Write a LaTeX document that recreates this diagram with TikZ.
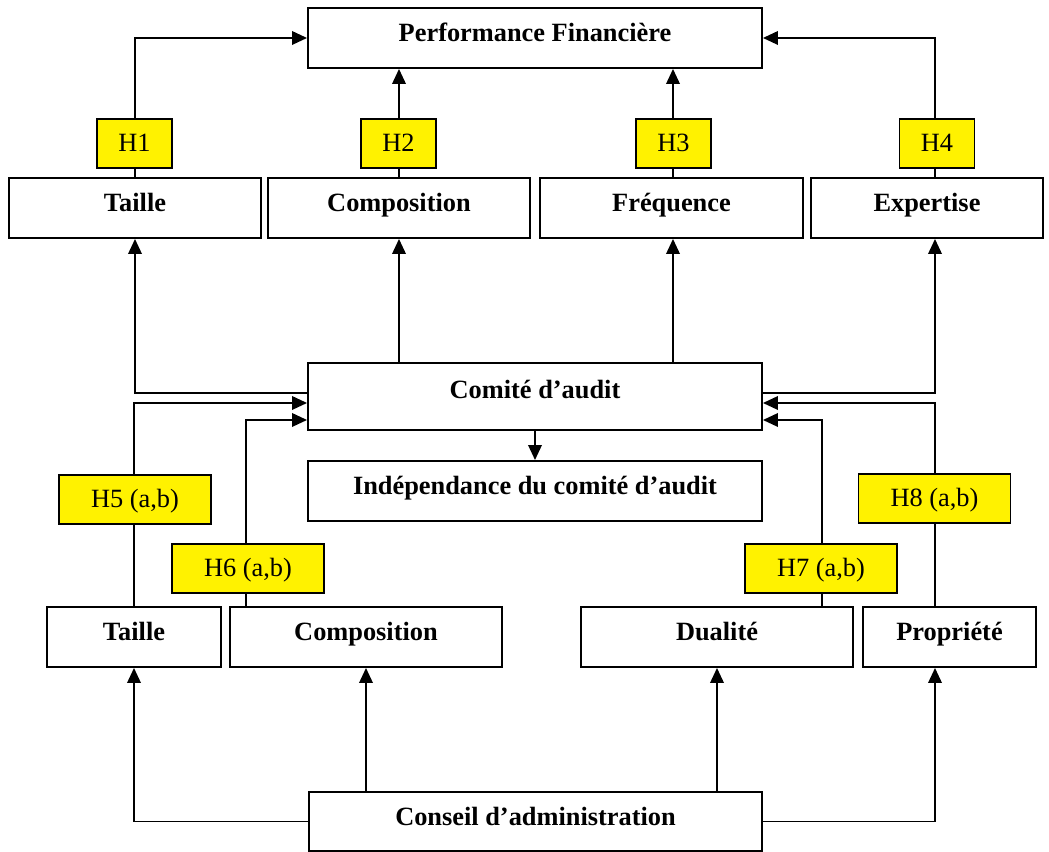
\documentclass[tikz,border=0pt]{standalone}
\usepackage{fontspec}
\setmainfont{Liberation Serif}
\usetikzlibrary{arrows.meta}

\tikzset{
	box/.style={draw=black, line width=1.1pt, inner sep=0pt, minimum height=1.20cm, text height=0.66em, text depth=0.24em, font=\fontsize{15}{18}\selectfont\bfseries},
	hyp/.style={draw=black, line width=1.1pt, fill=yellow, inner sep=0pt, minimum width=1.50cm, minimum height=0.98cm, text height=0.87em, text depth=0em, font=\fontsize{15}{18}\selectfont},
	link/.style={line width=1.1pt, -{Triangle[length=0.30cm, width=0.27cm]}}
}

\begin{document}
\begin{tikzpicture}[scale=1]
				\useasboundingbox (0.00, 0.00) rectangle (20.98, 17.04);
				\node[box, minimum width=9.08cm] (perf) at (10.70, 16.28) {Performance Financière};
				\node[box, minimum width=5.04cm] (tailleCA) at (2.70, 12.88) {Taille};
				\node[box, minimum width=5.24cm] (compoCA) at (7.98, 12.88) {Composition};
				\node[box, minimum width=5.26cm] (freqCA) at (13.43, 12.88) {Fréquence};
				\node[box, minimum width=4.64cm] (expCA) at (18.54, 12.88) {Expertise};
				\node[box, minimum width=9.08cm, minimum height=1.34cm, text depth=0.45em] (comite) at (10.70, 9.11) {Comité d’audit};
				\node[box, minimum width=9.08cm] (indep) at (10.70, 7.22) {Indépendance du comité d’audit};
				\node[box, minimum width=3.48cm] (tailleCONS) at (2.68, 4.30) {Taille};
				\node[box, minimum width=5.44cm] (compoCONS) at (7.32, 4.30) {Composition};
				\node[box, minimum width=5.44cm] (dual) at (14.34, 4.30) {Dualité};
				\node[box, minimum width=3.46cm] (prop) at (18.99, 4.30) {Propriété};
				\node[box, minimum width=9.06cm, minimum height=1.18cm] (conseil) at (10.71, 0.61) {Conseil d’administration};

				\draw[link] (tailleCA.north) |- (perf.west);
				\draw[link] (compoCA.north) -- (compoCA.north |- perf.south);
				\draw[link] ([xshift=0.03cm]freqCA.north) -- ([xshift=0.03cm]freqCA.north |- perf.south);
				\draw[link] ([xshift=0.16cm]expCA.north) |- (perf.east);

				\draw[link] ([yshift=0.07cm]comite.west) -| (tailleCA.south);
				\draw[link] (comite.north -| compoCA) -- (compoCA.south);
				\draw[link] ([xshift=0.03cm]comite.north -| freqCA) -- ([xshift=0.03cm]freqCA.south);
				\draw[link] ([yshift=0.07cm]comite.east) -| ([xshift=0.16cm]expCA.south);
				\draw[link] (comite.south) -- (indep.north);

				\draw[link] (tailleCONS.north) |- ([yshift=-0.13cm]comite.west);
				\draw[link] ([xshift=0.34cm]compoCONS.north west) |- ([yshift=-0.47cm]comite.west);
				\draw[link] ([xshift=-0.64cm]dual.north east) |- ([yshift=-0.47cm]comite.east);
				\draw[link] ([xshift=-0.29cm]prop.north) |- ([yshift=-0.13cm]comite.east);

				\draw[link] (conseil.west) -| (tailleCONS.south);
				\draw[link] (conseil.north -| compoCONS) -- (compoCONS.south);
				\draw[link] (conseil.north -| dual) -- (dual.south);
				\draw[link] (conseil.east) -| ([xshift=-0.29cm]prop.south);

				\node[hyp] (h1) at (2.69, 14.17) {H1};
				\node[hyp] (h2) at (7.97, 14.17) {H2};
				\node[hyp] (h3) at (13.47, 14.17) {H3};
				\node[hyp] (h4) at (18.74, 14.17) {H4};
				\node[hyp, minimum width=3.04cm] (h5) at (2.70, 7.05) {H5 (a,b)};
				\node[hyp, minimum width=3.04cm] (h6) at (4.96, 5.67) {H6 (a,b)};
				\node[hyp, minimum width=3.04cm] (h7) at (16.42, 5.67) {H7 (a,b)};
				\node[hyp, minimum width=3.04cm] (h8) at (18.69, 7.07) {H8 (a,b)};
			\end{tikzpicture}
\end{document}
